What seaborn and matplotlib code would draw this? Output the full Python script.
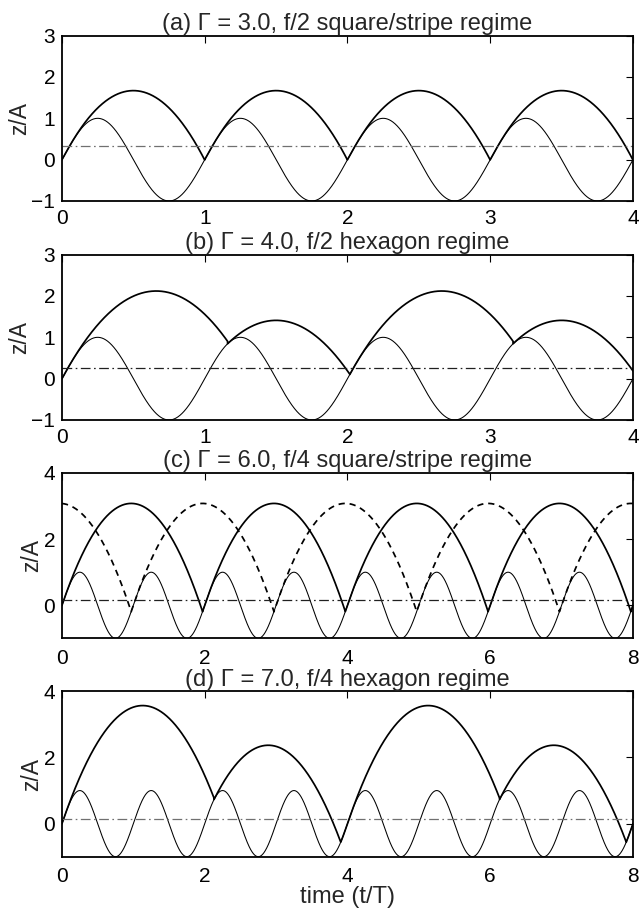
import numpy as np
import matplotlib
matplotlib.use("Agg")
import matplotlib.pyplot as plt
import seaborn as sns

# ---------------- data ----------------
titles = ["(a) Γ = 3.0, f/2 square/stripe regime",
          "(b) Γ = 4.0, f/2 hexagon regime",
          "(c) Γ = 6.0, f/4 square/stripe regime",
          "(d) Γ = 7.0, f/4 hexagon regime"]
x_max = [4, 4, 8, 8]
y_lims = [(-1, 3), (-1, 3), (-1, 4), (-1, 4)]
y_ticks = [[-1, 0, 1, 2, 3], [-1, 0, 1, 2, 3], [0, 2, 4], [0, 2, 4]]
x_ticks = [[0, 1, 2, 3, 4], [0, 1, 2, 3, 4], [0, 2, 4, 6, 8], [0, 2, 4, 6, 8]]

plate_amplitude = 1.0   # z/A of the plate
plate_period = 1.0      # t/T of the plate
liftoff_level = [0.33, 0.25, 0.17, 0.14]   # dash-dot lines

# ball flights: takeoff time, apex time, apex height
a_takeoff = [0.05, 1.05, 2.05, 3.05]
a_apex_t = [0.50, 1.50, 2.50, 3.50]
a_apex_z = [1.67, 1.67, 1.67, 1.67]

b_takeoff = [0.04, 1.16, 2.04, 3.16]
b_apex_t = [0.66, 1.50, 2.66, 3.50]
b_apex_z = [2.12, 1.41, 2.12, 1.41]

c_takeoff = [0.03, 2.03, 4.03, 6.03]
c_apex_t = [0.97, 2.97, 4.97, 6.97]
c_apex_z = [3.08, 3.08, 3.08, 3.08]

c_dash_takeoff = [-0.97, 1.03, 3.03, 5.03, 7.03]
c_dash_apex_t = [-0.03, 1.97, 3.97, 5.97, 7.97]
c_dash_apex_z = [3.08, 3.08, 3.08, 3.08, 3.08]

d_takeoff = [0.02, 2.13, 4.02, 6.13]
d_apex_t = [1.13, 2.89, 5.13, 6.89]
d_apex_z = [3.57, 2.37, 3.57, 2.37]

flights = [[(a_takeoff, a_apex_t, a_apex_z, "-")],
           [(b_takeoff, b_apex_t, b_apex_z, "-")],
           [(c_takeoff, c_apex_t, c_apex_z, "-"),
            (c_dash_takeoff, c_dash_apex_t, c_dash_apex_z, "--")],
           [(d_takeoff, d_apex_t, d_apex_z, "-")]]
level_colors = ["#707070", "#202020", "#202020", "#707070"]


def plate(t):
    return plate_amplitude * np.sin(2 * np.pi * t / plate_period)


def trajectory(t, takeoffs, apex_t, apex_z):
    p = plate(t)
    z = p.copy()
    for t0, ta, za in zip(takeoffs, apex_t, apex_z):
        k = (za - plate(t0)) / (ta - t0) ** 2
        arc = za - k * (t - ta) ** 2
        after = (t > ta) & (arc <= p)
        t_land = t[after][0] if after.any() else t[-1]
        m = (t >= t0) & (t <= t_land)
        z[m] = arc[m]
    return z


# ---------------- figure ----------------
sns.set_style("white")
plt.rcParams["font.family"] = ["Liberation Sans", "DejaVu Sans"]
plt.rcParams["lines.scale_dashes"] = False

fig = plt.figure(figsize=(6.39, 9.14), dpi=100)
bottoms = [0.7801, 0.5405, 0.3016, 0.0627]
height = 0.1809
left, width = 0.097, 0.8936
xpads = [5.5, 6.0, 7.5, 7.5]

for i in range(4):
    ax = fig.add_axes([left, bottoms[i], width, height])
    t = np.linspace(-1, x_max[i], 9000)
    sns.lineplot(x=t, y=plate(t), ax=ax, color="black", lw=0.75,
                 estimator=None, sort=False)
    for tk, at, az, ls in flights[i]:
        z = trajectory(t, tk, at, az)
        line = sns.lineplot(x=t, y=z, ax=ax, color="black", lw=1.25,
                            estimator=None, sort=False).lines[-1]
        if ls == "--":
            line.set_dashes((4.5, 3.5))
    ax.axhline(liftoff_level[i], color=level_colors[i], lw=0.9,
               linestyle=(0, (7, 2.5, 1.2, 2.5)))
    ax.set_xlim(0, x_max[i])
    ax.set_ylim(*y_lims[i])
    ax.set_xticks(x_ticks[i])
    ax.set_yticks(y_ticks[i])
    ax.set_yticklabels([str(v).replace("-", "\u2212") for v in y_ticks[i]])
    ax.set_title(titles[i], fontsize=17, pad=4)
    ax.set_ylabel("z/A", fontsize=16.5, labelpad=0)
    ax.tick_params(direction="in", top=True, right=True, length=5,
                   width=0.8, labelsize=15, pad=5, colors="black")
    ax.tick_params(axis="x", pad=xpads[i])
    for s in ax.spines.values():
        s.set_color("black")
        s.set_linewidth(1.3)
    if i == 3:
        ax.set_xlabel("time (t/T)", fontsize=17, labelpad=0)

fig.savefig("out.png", dpi=100, facecolor="white")
